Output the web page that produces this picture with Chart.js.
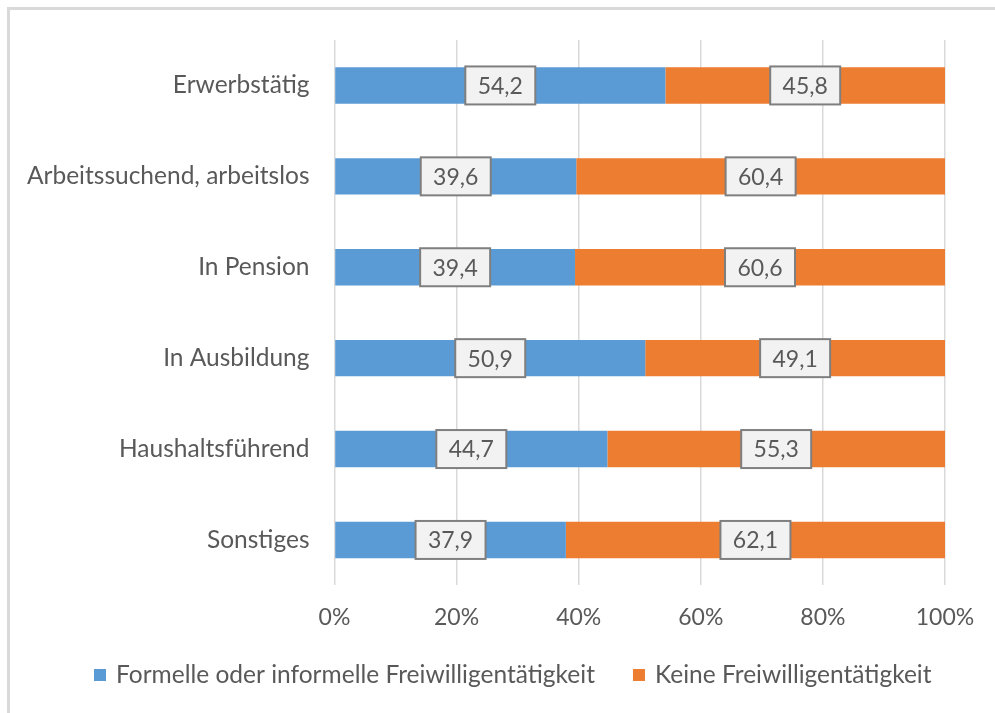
<!DOCTYPE html>
<html>
<head>
<meta charset="utf-8">
<script src="https://cdn.jsdelivr.net/npm/chart.js@4"></script>
<style>
  html, body { margin: 0; padding: 0; background: #fff; }
  .frame {
    position: absolute; left: 7px; top: 7px; width: 1000px; height: 720px;
    border: 3px solid #d9d9d9; box-sizing: border-box;
  }
  .wrap { position: absolute; left: 0; top: 0; width: 995px; height: 713px; }
</style>
</head>
<body>
<div class="frame"></div>
<div class="wrap"><canvas id="chart"></canvas></div>
<script>
const categories = ['Erwerbstätig', 'Arbeitssuchend, arbeitslos', 'In Pension', 'In Ausbildung', 'Haushaltsführend', 'Sonstiges'];
const freiwillig = [54.2, 39.6, 39.4, 50.9, 44.7, 37.9];
const keine = [45.8, 60.4, 60.6, 49.1, 55.3, 62.1];
const xTicks = [0, 20, 40, 60, 80, 100];

const textColor = '#595959';
const fontFamily = 'Lato, "Open Sans", sans-serif';

// boxed value labels in the middle of each segment
const boxLabels = {
    id: 'boxLabels',
    afterDatasetsDraw(chart) {
        const ctx = chart.ctx;
        ctx.save();
        ctx.font = '23px ' + fontFamily;
        ctx.textAlign = 'center';
        ctx.textBaseline = 'middle';
        chart.data.datasets.forEach((ds, i) => {
            const meta = chart.getDatasetMeta(i);
            meta.data.forEach((bar, j) => {
                const cx = (bar.x + bar.base) / 2;
                const cy = bar.y;
                const w = 70, h = 38;
                ctx.fillStyle = '#f2f2f2';
                ctx.fillRect(cx - w / 2, cy - h / 2, w, h);
                ctx.strokeStyle = '#7f7f7f';
                ctx.lineWidth = 2;
                ctx.strokeRect(cx - w / 2, cy - h / 2, w, h);
                ctx.fillStyle = textColor;
                ctx.fillText(ds.data[j].toFixed(1).replace('.', ','), cx, cy + 1);
            });
        });
        ctx.restore();
    }
};

// legend drawn by hand so the gaps can match the original
const bottomLegend = {
    id: 'bottomLegend',
    afterDraw(chart) {
        const ctx = chart.ctx;
        ctx.save();
        ctx.font = '24.5px ' + fontFamily;
        ctx.textBaseline = 'middle';
        let x = 94;
        const y = 675;
        chart.data.datasets.forEach((ds) => {
            ctx.fillStyle = ds.backgroundColor;
            ctx.fillRect(x, y - 6, 12, 12);
            x += 22;
            ctx.fillStyle = textColor;
            ctx.fillText(ds.label, x, y);
            x += ctx.measureText(ds.label).width + 38;
        });
        ctx.restore();
    }
};

const ctx = document.getElementById('chart').getContext('2d');
new Chart(ctx, {
    type: 'bar',
    data: {
        labels: categories,
        datasets: [{
            label: 'Formelle oder informelle Freiwilligentätigkeit',
            data: freiwillig,
            backgroundColor: '#5b9bd5',
            categoryPercentage: 0.8,
            barPercentage: 0.5
        }, {
            label: 'Keine Freiwilligentätigkeit',
            data: keine,
            backgroundColor: '#ed7d31',
            categoryPercentage: 0.8,
            barPercentage: 0.5
        }]
    },
    options: {
        indexAxis: 'y',
        responsive: true,
        maintainAspectRatio: false,
        animation: false,
        layout: { padding: { top: 40, right: 50, bottom: 64, left: 2 } },
        scales: {
            x: {
                stacked: true,
                min: 0,
                max: 100,
                afterBuildTicks: (axis) => { axis.ticks = xTicks.map(v => ({ value: v })); },
                ticks: {
                    color: textColor,
                    font: { family: fontFamily, size: 23 },
                    padding: 18,
                    callback: (v) => v + '%'
                },
                grid: { color: '#d9d9d9', lineWidth: 1.5, drawTicks: false },
                border: { display: false }
            },
            y: {
                stacked: true,
                ticks: {
                    color: textColor,
                    font: { family: fontFamily, size: 24.5 },
                    padding: 25
                },
                grid: { display: false, drawTicks: false },
                border: { display: false }
            }
        },
        plugins: {
            legend: { display: false },
            tooltip: { enabled: false }
        }
    },
    plugins: [boxLabels, bottomLegend]
});
</script>
</body>
</html>
